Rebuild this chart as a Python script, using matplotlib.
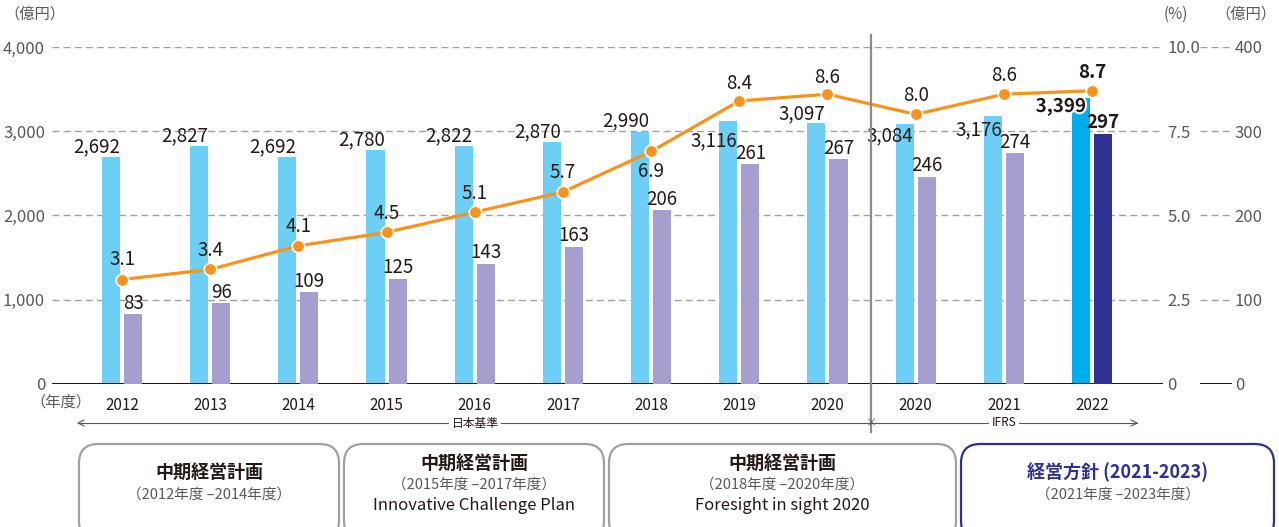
import matplotlib
matplotlib.use("Agg")
import matplotlib.pyplot as plt
import matplotlib.patheffects as pe
from matplotlib.patches import FancyBboxPatch
from matplotlib.lines import Line2D

plt.rcParams["font.family"] = ["Noto Sans CJK JP", "DejaVu Sans"]

# data
years = ["2012", "2013", "2014", "2015", "2016", "2017", "2018", "2019", "2020",
         "2020", "2021", "2022"]
sales = [2692, 2827, 2692, 2780, 2822, 2870, 2990, 3116, 3097, 3084, 3176, 3399]
profit = [83, 96, 109, 125, 143, 163, 206, 261, 267, 246, 274, 297]
margin = [3.1, 3.4, 4.1, 4.5, 5.1, 5.7, 6.9, 8.4, 8.6, 8.0, 8.6, 8.7]
left_ticks = [0, 1000, 2000, 3000, 4000]
pct_ticks = [0, 2.5, 5.0, 7.5, 10.0]
right_ticks = [0, 100, 200, 300, 400]

# label placement (pixels, + = down)
sales_dy = [-10, -10, -10, -10, -10, -10, -11, 19, -9, 12, 13, 9]
margin_dy = [-20, -19, -19, -19, -19, -19, 20, -17, -17, -19, -19, -18]

W, H = 1279, 527
LIGHT = "#6dcff6"
PURPLE = "#a59fd0"
ORANGE = "#f7931e"
BLUE = "#00aeef"
NAVY = "#2e3192"
TXT = "#231815"
GRAY = "#595757"
GRID = "#9fa0a0"


def fx(px):
    return px / W


def fy(py):
    return 1 - py / H


fig = plt.figure(figsize=(W / 100, H / 100), dpi=100)
ax = fig.add_axes([fx(52), fy(384), (1163 - 52) / W, 337 / H])
ax2 = ax.twinx()
ax3 = ax.twinx()
axr = fig.add_axes([fx(1200), fy(384), 32 / W, 337 / H])

n = len(years)
xs = list(range(n))
bw = 0.205
off = 0.125

light_cols = [LIGHT] * (n - 1) + [BLUE]
purple_cols = [PURPLE] * (n - 1) + [NAVY]

ax.bar([x - off for x in xs], sales, width=bw, color=light_cols, zorder=2)
ax3.bar([x + off for x in xs], profit, width=bw, color=purple_cols, zorder=2)

ax.set_xlim(-0.794, 11.805)
ax.set_ylim(0, 4000)
ax2.set_ylim(0, 10)
ax3.set_ylim(0, 400)
axr.set_ylim(0, 400)
axr.set_xlim(0, 1)

for a in (ax, ax2, ax3, axr):
    for s in a.spines.values():
        s.set_visible(False)
    a.patch.set_visible(False)

# grid
for t in left_ticks[1:]:
    ax.axhline(t, color=GRID, lw=1, ls=(0, (5, 3)), zorder=1)
ax.axhline(0, color=TXT, lw=2.2, zorder=4)
for t in right_ticks[1:]:
    axr.axhline(t, color=GRID, lw=1, ls=(0, (5, 3)))
axr.axhline(0, color=TXT, lw=2.2)

ax.set_yticks(left_ticks)
ax.set_yticklabels([f"{t:,}" for t in left_ticks])
ax.tick_params(axis="y", length=0, pad=5, labelsize=12, labelcolor=GRAY)
ax2.set_yticks(pct_ticks)
ax2.set_yticklabels(["0"] + [f"{t:.1f}" for t in pct_ticks[1:]])
ax2.tick_params(axis="y", length=0, pad=3, labelsize=12, labelcolor=GRAY)
ax3.set_yticks([])
axr.set_xticks([])
axr.yaxis.tick_right()
axr.set_yticks(right_ticks)
axr.tick_params(axis="y", length=0, pad=2, labelsize=12, labelcolor=GRAY)

ax.set_xticks(xs)
ax.set_xticklabels(years)
ax.tick_params(axis="x", length=0, pad=9, labelsize=11, labelcolor=TXT)

# margin line on the percent axis
ax2.plot(xs, margin, color=ORANGE, lw=2.3, marker="o", ms=9,
         mfc=ORANGE, mec="white", mew=1.2, zorder=5)

# value labels
for i in xs:
    last = i == n - 1
    fw = "bold" if last else "normal"
    t = ax.annotate(f"{sales[i]:,}", (i - off + bw / 2, sales[i]),
                    xytext=(0 if not last else -4, -sales_dy[i]),
                    textcoords="offset pixels", ha="right", va="center",
                    fontsize=13.5, color=TXT, fontweight=fw, zorder=6)
    if last:
        t.set_path_effects([pe.withStroke(linewidth=3, foreground="white")])
    ax3.annotate(f"{profit[i]}", (i + off, profit[i]), xytext=(0, 11),
                 textcoords="offset pixels", ha="center", va="center",
                 fontsize=13.5, color=TXT, fontweight=fw)
    ax2.annotate(f"{margin[i]:.1f}", (i, margin[i]), xytext=(0, -margin_dy[i]),
                 textcoords="offset pixels", ha="center", va="center",
                 fontsize=13.5, color=TXT, fontweight=fw, zorder=7)

# unit labels
fig.text(fx(4), fy(14), "（億円）", fontsize=11, color=GRAY, va="center", ha="left")
fig.text(fx(1176), fy(14), "(%)", fontsize=11, color=GRAY, va="center", ha="center")
fig.text(fx(1276), fy(14), "（億円）", fontsize=11, color=GRAY, va="center", ha="right")
fig.text(fx(91), fy(402), "（年度）", fontsize=11, color=GRAY, va="center", ha="right")

# separator between JGAAP and IFRS
fig.add_artist(Line2D([fx(871), fx(871)], [fy(35), fy(432)], color="#8c8c8c", lw=1.6))

# standard arrows
ya = fy(423)
fig.add_artist(Line2D([fx(78), fx(871)], [ya, ya], color=GRAY, lw=0.8))
fig.add_artist(Line2D([fx(871), fx(1137)], [ya, ya], color=GRAY, lw=0.8))
for x0, d in ((78, 1), (1137, -1)):
    fig.add_artist(Line2D([fx(x0 + 6 * d), fx(x0), fx(x0 + 6 * d)],
                          [fy(420), ya, fy(426)], color=GRAY, lw=0.8))
fig.text(fx(871), ya, "×", fontsize=8, color=GRAY, ha="center", va="center")
fig.text(fx(475), ya, "日本基準", fontsize=8.5, color=TXT, ha="center", va="center",
         bbox=dict(facecolor="white", edgecolor="none", pad=2))
fig.text(fx(1004), ya, "IFRS", fontsize=8.5, color=TXT, ha="center", va="center",
         bbox=dict(facecolor="white", edgecolor="none", pad=2))

# plan boxes
boxes = [
    (78, 340, GRAY, ["中期経営計画", "（2012年度 –2014年度）"]),
    (343, 605, GRAY, ["中期経営計画", "（2015年度 –2017年度）", "Innovative Challenge Plan"]),
    (608, 957, GRAY, ["中期経営計画", "（2018年度 –2020年度）", "Foresight in sight 2020"]),
    (960, 1275, NAVY, ["経営方針 (2021-2023)", "（2021年度 –2023年度）"]),
]
for x0, x1, ec, lines in boxes:
    edge = "#a0a0a0" if ec == GRAY else NAVY
    box = FancyBboxPatch((fx(x0 + 1), fy(540)), (x1 - x0 - 2) / W, (540 - 444) / H,
                         boxstyle="round,pad=0,rounding_size=0.015",
                         transform=fig.transFigure, facecolor="white",
                         edgecolor=edge, lw=1.6, mutation_aspect=W / H)
    fig.patches.append(box)
    cx = fx((x0 + x1) / 2)
    title_col = NAVY if ec == NAVY else TXT
    if len(lines) == 2:
        fig.text(cx, fy(472), lines[0], fontsize=13, fontweight="bold", color=title_col,
                 ha="center", va="center")
        fig.text(cx, fy(495), lines[1], fontsize=10.5, color=GRAY, ha="center", va="center")
    else:
        fig.text(cx, fy(463), lines[0], fontsize=13, fontweight="bold", color=title_col,
                 ha="center", va="center")
        fig.text(cx, fy(485), lines[1], fontsize=10.5, color=GRAY, ha="center", va="center")
        fig.text(cx, fy(506), lines[2], fontsize=12, color=TXT, ha="center", va="center")

fig.savefig("out.png", dpi=100)
